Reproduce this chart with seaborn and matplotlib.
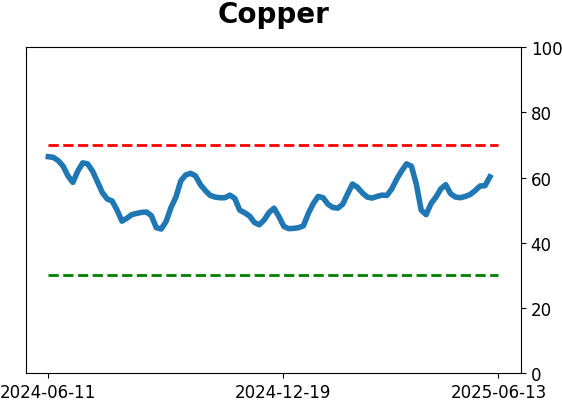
import matplotlib
matplotlib.use("Agg")
import matplotlib.pyplot as plt
import seaborn as sns
import pandas as pd
import numpy as np

title = "Copper"
start_date = "2024-06-11"
step_days = 4
values = [66.4, 66.2, 65.2, 63.5, 60.5, 58.5, 62.0, 64.5, 64.2, 62.0,
          58.7, 55.4, 53.4, 52.8, 50.0, 46.6, 47.5, 48.6, 49.0, 49.3,
          49.4, 48.3, 44.6, 44.2, 46.5, 50.8, 54.0, 59.0, 60.8, 61.3,
          60.5, 57.8, 56.0, 54.5, 54.0, 53.8, 53.8, 54.6, 53.6, 50.0,
          49.2, 48.2, 46.2, 45.5, 47.0, 49.3, 50.6, 48.0, 45.0, 44.3,
          44.4, 44.6, 45.2, 49.0, 52.0, 54.2, 53.8, 51.8, 50.8, 50.6,
          51.8, 55.0, 58.0, 57.0, 55.3, 54.0, 53.7, 54.2, 54.6, 54.5,
          56.5, 59.5, 62.0, 64.2, 63.5, 58.0, 50.0, 48.6, 52.0, 54.0,
          56.5, 57.8, 55.0, 54.0, 53.8, 54.2, 54.8, 56.0, 57.4, 57.5,
          60.2]
upper_level = 70
lower_level = 30
range_start = "2024-06-11"
range_end = "2025-06-13"
xtick_labels = ["2024-06-11", "2024-12-19", "2025-06-13"]
ytick_values = [0, 20, 40, 60, 80, 100]

dates = pd.date_range(start_date, periods=len(values), freq=f"{step_days}D")
df = pd.DataFrame({"date": dates, "value": values})

fig = plt.figure(figsize=(5.62, 4.02), dpi=100)
ax = fig.add_axes([0.046, 0.0697, 0.881, 0.8103])

sns.lineplot(data=df, x="date", y="value", ax=ax, color="#1f77b4", linewidth=4)
ax.hlines(upper_level, pd.Timestamp(range_start), pd.Timestamp(range_end),
          colors="red", linestyles="--", linewidth=2)
ax.hlines(lower_level, pd.Timestamp(range_start), pd.Timestamp(range_end),
          colors="green", linestyles="--", linewidth=2)

span = pd.Timestamp(range_end) - pd.Timestamp(range_start)
ax.set_xlim(pd.Timestamp(range_start) - span * 0.05, pd.Timestamp(range_end) + span * 0.05)
ax.set_ylim(0, 100)
ax.set_xticks([pd.Timestamp(t) for t in xtick_labels])
ax.set_xticklabels(xtick_labels, fontsize=12)
ax.yaxis.tick_right()
ax.set_yticks(ytick_values)
ax.set_yticklabels([str(v) for v in ytick_values], fontsize=12)
ax.set_xlabel("")
ax.set_ylabel("")
ax.set_title(title, fontsize=20, fontweight="bold", pad=18)

fig.savefig("out.png", dpi=100)
